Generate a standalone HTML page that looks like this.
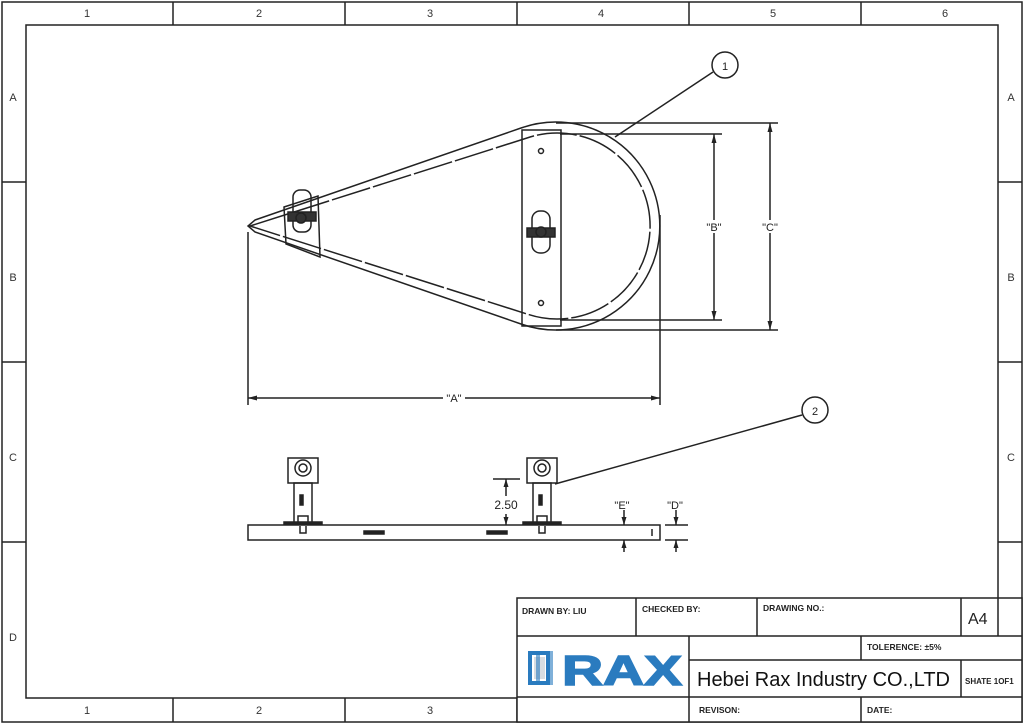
<!DOCTYPE html>
<html><head><meta charset="utf-8"><style>
html,body{margin:0;padding:0;background:#fff;}
svg{display:block;}
text{font-family:"Liberation Sans",sans-serif;}
</style></head><body>
<svg width="1024" height="725" viewBox="0 0 1024 725" xmlns="http://www.w3.org/2000/svg">
<rect x="0" y="0" width="1024" height="725" fill="#fff"/>
<g stroke="#222" fill="none" stroke-width="1.5">
<rect x="2" y="2" width="1020" height="720"/>
<rect x="26" y="25" width="972" height="673"/>
<path d="M173 2V25M345 2V25M517 2V25M689 2V25M861 2V25M173 698V722M345 698V722M517 698V722"/>
<path d="M2 182H26M2 362H26M2 542H26M998 182H1022M998 362H1022M998 542H1022"/>
</g>
<g font-family="Liberation Serif" font-size="11" fill="#333" text-anchor="middle">
<text x="87" y="17">1</text><text x="259" y="17">2</text><text x="430" y="17">3</text><text x="601" y="17">4</text><text x="773" y="17">5</text><text x="945" y="17">6</text>
<text x="87" y="714">1</text><text x="259" y="714">2</text><text x="430" y="714">3</text>
<text x="13" y="101">A</text><text x="13" y="281">B</text><text x="13" y="461">C</text><text x="13" y="641">D</text>
<text x="1011" y="101">A</text><text x="1011" y="281">B</text><text x="1011" y="461">C</text><text x="1011" y="641">D</text>
</g>
<g stroke="#222" fill="#fff" stroke-width="1.5">
<rect x="517" y="598" width="505" height="124"/>
</g>
<g stroke="#222" fill="none" stroke-width="1.5">
<path d="M517 636H1022M689 660H1022M517 697H1022M636 598V636M757 598V636M961 598V636M998 598V636M689 636V722M861 636V660M961 660V697M861 697V722"/>
</g>
<g font-size="8.5" fill="#222" font-weight="bold">
<text x="522" y="614">DRAWN BY:   LIU</text>
<text x="642" y="612">CHECKED BY:</text>
<text x="763" y="611">DRAWING NO.:</text>
<text x="867" y="650">TOLERENCE:  ±5%</text>
<text x="965" y="684" font-size="8">SHATE 1OF1</text>
<text x="699" y="713">REVISON:</text>
<text x="867" y="713">DATE:</text>
</g>
<text x="968" y="624" font-size="16" fill="#222">A4</text>
<text x="697" y="686" font-size="20" fill="#111" textLength="253" lengthAdjust="spacingAndGlyphs">Hebei Rax Industry CO.,LTD</text>
<g fill="#2a7bbf">
<path d="M528 651h22v34h-22z M532 655v26h14v-26z" fill-rule="evenodd"/>
<rect x="534" y="657" width="11" height="22" fill="#d8dde2"/>
<path d="M536 651h17v34h-17z M540 655v26h9v-26z" fill-rule="evenodd" opacity="0.6"/>
</g>
<text x="562" y="685" font-size="42" font-weight="bold" fill="#2a7bbf" textLength="120" lengthAdjust="spacingAndGlyphs" stroke="#2a7bbf" stroke-width="1.5">RAX</text>
<g stroke="#222" fill="none" stroke-width="1.5">
<path d="M255 220 L521 128 A104 104 0 1 1 521 324 L255 232 L248 226 Z"/>
<path d="M250 226 L527 138 A93 93 0 1 1 527 314 Z" stroke-dasharray="40 3"/>
<rect x="522" y="130" width="39" height="196"/>
<circle cx="541" cy="151" r="2.5"/><circle cx="541" cy="303" r="2.5"/>
<rect x="532" y="211" width="18" height="42" rx="8"/>
<rect x="527" y="228" width="28" height="9" fill="#333"/>
<circle cx="541" cy="232" r="5" fill="#333"/>
<polygon points="284,207 318,196 320,257 286,244"/>
<rect x="293" y="190" width="18" height="42" rx="7"/>
<rect x="288" y="212" width="28" height="9" fill="#333"/>
<circle cx="301" cy="218" r="5" fill="#333"/>
<path d="M248 232V405M660 215V405M248 398H660"/>
<path d="M560 134H722M560 320H722M714 134V320"/>
<path d="M556 123H778M556 330H778M770 123V330"/>
<circle cx="725" cy="65" r="13"/><path d="M713 72L615 137"/>
<circle cx="815" cy="410" r="13"/><path d="M802 415L555 484"/>
</g>
<g fill="#222">
<path d="M248 398l9 -2.5v5z M660 398l-9 -2.5v5z"/>
<path d="M714 134l-2.5 9h5z M714 320l-2.5 -9h5z"/>
<path d="M770 123l-2.5 9h5z M770 330l-2.5 -9h5z"/>
</g>
<g font-size="11" fill="#222" text-anchor="middle">
<rect x="443" y="391" width="22" height="13" fill="#fff"/><text x="454" y="402">"A"</text>
<rect x="702" y="220" width="24" height="13" fill="#fff"/><text x="714" y="231">"B"</text>
<rect x="758" y="220" width="24" height="13" fill="#fff"/><text x="770" y="231">"C"</text>
<text x="725" y="70">1</text><text x="815" y="415">2</text>
</g>
<g stroke="#222" fill="none" stroke-width="1.5">
<rect x="248" y="525" width="412" height="15"/>
<rect x="364" y="531" width="20" height="3" fill="#222"/>
<rect x="487" y="531" width="20" height="3" fill="#222"/>
<path d="M652 529V536"/>
<g id="post">
<rect x="288" y="458" width="30" height="25"/>
<circle cx="303" cy="468" r="8"/><circle cx="303" cy="468" r="4"/>
<rect x="294" y="483" width="18" height="40"/>
<path d="M284 525V522H322V525" fill="#222"/>
<rect x="298" y="516" width="10" height="7"/>
<path d="M300 526v7h6v-7"/>
<rect x="300" y="495" width="3" height="10" fill="#222"/>
</g>
<use href="#post" x="239"/>
<path d="M493 479H520M506 479V496M506 514V525"/>
<path d="M624 510V525M624 540V552M676 510V525M676 540V552M665 525H688M665 540H688"/>
</g>
<g fill="#222">
<path d="M506 479l-2.5 8h5z M506 525l-2.5 -8h5z"/>
<path d="M624 525l-2.5 -8h5z M624 540l-2.5 8h5z M676 525l-2.5 -8h5z M676 540l-2.5 8h5z"/>
</g>
<g font-size="12" fill="#222" text-anchor="middle">
<text x="506" y="509">2.50</text>
<text x="622" y="509" font-size="11">"E"</text>
<text x="675" y="509" font-size="11">"D"</text>
</g>
</svg>
</body></html>
